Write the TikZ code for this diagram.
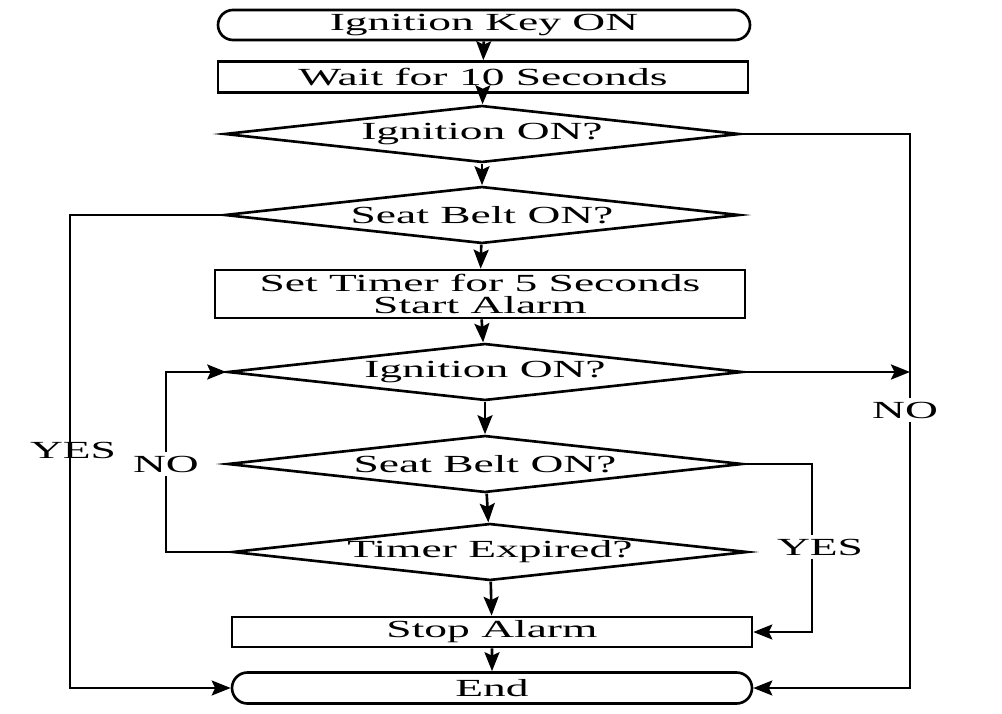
\documentclass[tikz,border=0pt]{standalone}
\usepackage{fontspec}
\setmainfont{Liberation Serif}[FakeStretch=1.85]
\usepackage{tikz}
\usetikzlibrary{arrows.meta,positioning,calc,shapes.geometric,shapes.misc}

\tikzset{
  flow/.style={line width=0.75pt},
  arr/.style={flow,-{Stealth[length=1.9mm,width=1.5mm,inset=0.35mm]}},
  term/.style={draw,flow,rounded rectangle,inner sep=0pt,font=\fontsize{7}{6.3}\selectfont},
  proc/.style={draw,flow,rectangle,inner sep=0pt,align=center,font=\fontsize{7}{6.3}\selectfont},
  test/.style={draw,flow,diamond,aspect=9,inner sep=0pt,minimum width=5.15cm,
    minimum height=0.57cm,font=\fontsize{7}{6.3}\selectfont},
  tag/.style={inner sep=1pt,fill=white,font=\fontsize{7}{6.3}\selectfont}
}

\begin{document}
\begin{tikzpicture}[x=1cm,y=1cm]
  \useasboundingbox (0,0) rectangle (10.02,7.13);
  % Hauptstrang von oben nach unten
  \node[term,minimum width=5.32cm,minimum height=0.30cm] (key) at (4.84,6.88) {Ignition Key ON};
  \node[proc,minimum width=5.30cm,minimum height=0.31cm] (wait) at (4.83,6.36) {Wait for 10 Seconds};
  \node[test] (ign1) at (4.82,5.79) {Ignition ON?};
  \node[test] (belt1) at (4.82,4.98) {Seat Belt ON?};
  \node[proc,minimum width=5.30cm,minimum height=0.48cm] (timer) at (4.80,4.19)
    {Set Timer for 5 Seconds\\Start Alarm};
  \node[test] (ign2) at (4.85,3.41) {Ignition ON?};
  \node[test] (belt2) at (4.85,2.49) {Seat Belt ON?};
  \node[test] (expired) at (4.90,1.61) {Timer Expired?};
  \node[proc,minimum width=5.20cm,minimum height=0.30cm] (stop) at (4.92,0.81) {Stop Alarm};
  \node[term,minimum width=5.20cm,minimum height=0.31cm] (end) at (4.92,0.25) {End};

  % Hilfslinien fuer die Seitenwege
  \coordinate (rbus) at (9.10,0);
  \coordinate (lbus) at (0.70,0);
  \coordinate (loop) at (1.66,0);
  \coordinate (ryes) at (8.12,0);

  \draw[arr] (key) -- (wait);
  \draw[arr] (wait) -- (ign1);
  \draw[arr] (ign1) -- (belt1);
  \draw[arr] (belt1) -- (timer);
  \draw[arr] (timer) -- (ign2);
  \draw[arr] (ign2) -- (belt2);
  \draw[arr] (belt2) -- (expired);
  \draw[arr] (expired) -- (stop);
  \draw[arr] (stop) -- (end);

  \draw[arr] (ign1.east) -- (ign1.east -| rbus) |- (end.east);
  \draw[arr] (ign2.east) -- (ign2.east -| rbus);
  \draw[arr] (belt1.west) -- (belt1.west -| lbus) |- (end.west);
  \draw[arr] (expired.west) -- (expired.west -| loop) |- (ign2.west);
  \draw[arr] (belt2.east) -- (belt2.east -| ryes) |- (stop.east);

  \node[tag,fill=none] (yes1) at (0.73,2.63) {YES};
  \node[tag] (no1) at (1.66,2.49) {NO};
  \node[tag] (no2) at (9.05,3.03) {NO};
  \node[tag] (yes2) at (8.20,1.66) {YES};
\end{tikzpicture}
\end{document}
